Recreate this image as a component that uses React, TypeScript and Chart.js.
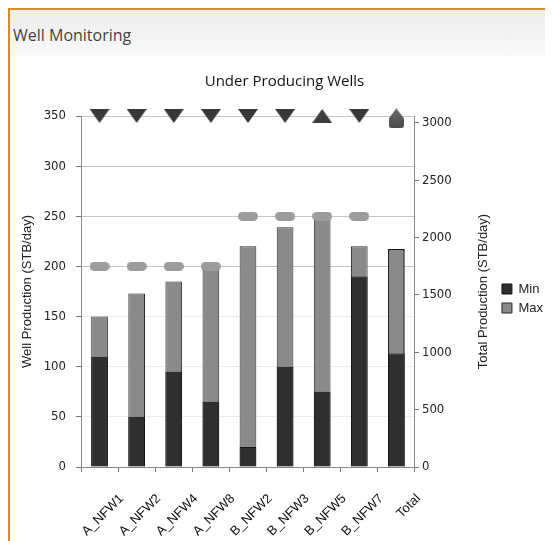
import { useEffect, useRef } from 'react';
import { Chart, registerables } from 'chart.js';

Chart.register(...registerables);

// ---- data ----
const categories = ['A_NFW1', 'A_NFW2', 'A_NFW4', 'A_NFW8', 'B_NFW2', 'B_NFW3', 'B_NFW5', 'B_NFW7', 'Total'];
const minValues = [110, 50, 95, 65, 20, 100, 75, 190, null];
const maxValues = [150, 173, 185, 198, 220, 239, 253, 220, null];
const totalMinValues = [null, null, null, null, null, null, null, null, 990];
const totalMaxValues = [null, null, null, null, null, null, null, null, 1900];
const statusValues = [350, 350, 350, 350, 350, 350, 350, 350, null];
const statusTrend = ['down', 'down', 'down', 'down', 'down', 'down', 'up', 'down', null];
const totalStatusValues = [null, null, null, null, null, null, null, null, 3040];
const targetValues = [200, 200, 200, 200, 250, 250, 250, 250, null];
const leftTickValues = [0, 50, 100, 150, 200, 250, 300, 350];
const rightTickValues = [0, 500, 1000, 1500, 2000, 2500, 3000];
const leftRange = { min: 0, max: 350 };
const rightRange = { min: 0, max: 3060 };

const TITLE = 'Under Producing Wells';
const HEADER = 'Well Monitoring';
const LEFT_TITLE = 'Well Production (STB/day)';
const RIGHT_TITLE = 'Total Production (STB/day)';

function makeMarker(w: number, h: number, draw: (g: CanvasRenderingContext2D) => void) {
  const c = document.createElement('canvas');
  c.width = w;
  c.height = h;
  const g = c.getContext('2d')!;
  draw(g);
  return c;
}

const rightTitlePlugin = {
  id: 'rightTitle',
  afterDraw(chart: any) {
    const { ctx, chartArea } = chart;
    ctx.save();
    ctx.translate(473, (chartArea.top + chartArea.bottom) / 2);
    ctx.rotate(-Math.PI / 2);
    ctx.font = '13px "Liberation Sans", Arial, sans-serif';
    ctx.fillStyle = '#222';
    ctx.textAlign = 'center';
    ctx.textBaseline = 'middle';
    ctx.fillText(RIGHT_TITLE, 0, 0);
    ctx.restore();
  },
};

export default function App() {
  const ref = useRef<HTMLCanvasElement>(null);

  useEffect(() => {
    const down = makeMarker(20, 14, (g) => {
      g.fillStyle = '#383838';
      g.beginPath();
      g.moveTo(0, 0);
      g.lineTo(20, 0);
      g.lineTo(10, 14);
      g.closePath();
      g.fill();
    });
    const up = makeMarker(20, 14, (g) => {
      g.fillStyle = '#3d3d3d';
      g.beginPath();
      g.moveTo(0, 14);
      g.lineTo(20, 14);
      g.lineTo(10, 0);
      g.closePath();
      g.fill();
    });
    const pill = makeMarker(20, 9, (g) => {
      g.fillStyle = '#9c9c9c';
      g.beginPath();
      (g as any).roundRect(0, 0, 20, 9, 4.5);
      g.fill();
    });
    const house = makeMarker(15, 20, (g) => {
      const grad = g.createLinearGradient(0, 0, 0, 20);
      grad.addColorStop(0, '#6a6a6a');
      grad.addColorStop(1, '#4a4a4a');
      g.fillStyle = grad;
      g.beginPath();
      g.moveTo(7.5, 0);
      g.lineTo(15, 10);
      g.lineTo(15, 17);
      g.quadraticCurveTo(15, 20, 12, 20);
      g.lineTo(3, 20);
      g.quadraticCurveTo(0, 20, 0, 17);
      g.lineTo(0, 10);
      g.closePath();
      g.fill();
    });

    const tickFont = { family: '"DejaVu Sans Condensed", "DejaVu Sans", sans-serif', size: 13 };

    const chart = new Chart(ref.current!, {
      type: 'bar',
      data: {
        labels: categories,
        datasets: [
          {
            label: 'Min',
            data: minValues,
            backgroundColor: '#2f2f2f',
            borderColor: '#151515',
            borderWidth: 1,
            yAxisID: 'y',
            stack: 's',
            order: 2,
          },
          {
            label: 'Max',
            data: maxValues,
            backgroundColor: '#8a8a8a',
            borderColor: '#2a2a2a',
            borderWidth: 1,
            yAxisID: 'y',
            stack: 's',
            order: 3,
          },
          {
            label: 'Total Min',
            data: totalMinValues,
            backgroundColor: '#2f2f2f',
            borderColor: '#151515',
            borderWidth: 1,
            yAxisID: 'y1',
            stack: 's',
            order: 2,
          },
          {
            label: 'Total Max',
            data: totalMaxValues,
            backgroundColor: '#8a8a8a',
            borderColor: '#151515',
            borderWidth: 1.5,
            yAxisID: 'y1',
            stack: 's',
            order: 3,
          },
          {
            type: 'line',
            label: 'Target',
            data: targetValues,
            showLine: false,
            pointStyle: pill as any,
            pointRadius: 5,
            yAxisID: 'y',
            clip: false as any,
            order: 1,
          } as any,
          {
            type: 'line',
            label: 'Status',
            data: statusValues,
            showLine: false,
            pointStyle: statusTrend.map((t) => (t === 'up' ? up : down)) as any,
            pointRadius: 5,
            yAxisID: 'y',
            clip: false as any,
            order: 0,
          } as any,
          {
            type: 'line',
            label: 'Total Status',
            data: totalStatusValues,
            showLine: false,
            pointStyle: house as any,
            pointRadius: 5,
            yAxisID: 'y1',
            clip: false as any,
            order: 0,
          } as any,
        ],
      },
      options: {
        animation: false,
        responsive: false,
        devicePixelRatio: 1,
        layout: { padding: { left: 6, right: 0, top: 0, bottom: 0 } },
        datasets: { bar: { barPercentage: 0.45, categoryPercentage: 1 } },
        plugins: {
          tooltip: { enabled: false },
          title: {
            display: true,
            text: TITLE,
            color: '#111',
            font: { family: '"Open Sans", sans-serif', size: 15, weight: 'normal' },
            padding: { top: 17, bottom: 25 },
          },
          legend: {
            position: 'right',
            labels: {
              boxWidth: 10,
              boxHeight: 10,
              padding: 6,
              color: '#222',
              font: { family: '"Liberation Sans", Arial, sans-serif', size: 13 },
              filter: (item: any) => item.datasetIndex === 0 || item.datasetIndex === 1,
            },
          },
        },
        scales: {
          x: {
            stacked: true,
            offset: true,
            grid: { display: true, drawOnChartArea: false, drawTicks: true, tickLength: 5, tickColor: '#777', offset: true },
            border: { color: '#888', width: 1 },
            ticks: {
              autoSkip: false,
              maxRotation: 45,
              minRotation: 45,
              labelOffset: 22,
              padding: 19,
              color: '#111',
              font: { family: '"Liberation Sans", Arial, sans-serif', size: 13 },
            },
            afterFit: (s: any) => {
              s.height = 74;
            },
          },
          y: {
            position: 'left',
            stacked: false,
            min: leftRange.min,
            max: leftRange.max,
            afterBuildTicks: (s: any) => {
              s.ticks = leftTickValues.map((v) => ({ value: v }));
            },
            ticks: { padding: 10, color: '#222', font: tickFont, callback: (v: any) => String(v) },
            grid: {
              color: (c: any) => (c.tick && c.tick.value >= 200 ? '#c4c4c4' : '#ededed'),
              tickColor: '#777',
              tickLength: 5,
            },
            border: { color: '#888', width: 1 },
            title: {
              display: true,
              text: LEFT_TITLE,
              color: '#222',
              font: { family: '"Liberation Sans", Arial, sans-serif', size: 13 },
            },
            afterFit: (s: any) => {
              s.width = 65;
            },
          },
          y1: {
            position: 'right',
            stacked: false,
            min: rightRange.min,
            max: rightRange.max,
            afterBuildTicks: (s: any) => {
              s.ticks = rightTickValues.map((v) => ({ value: v }));
            },
            ticks: { padding: 3, color: '#222', font: tickFont, autoSkip: false, callback: (v: any) => String(v) },
            grid: { drawOnChartArea: false, tickColor: '#777', tickLength: 4 },
            border: { color: '#888', width: 1 },
            afterFit: (s: any) => {
              s.width = 81;
            },
          },
        },
      } as any,
      plugins: [rightTitlePlugin],
    });
    return () => chart.destroy();
  }, []);

  return (
    <div
      style={{
        position: 'relative',
        width: 545,
        height: 533,
        boxSizing: 'border-box',
        borderLeft: '2px solid #d4901c',
        borderTop: '2px solid #d4901c',
        background: '#fff',
        overflow: 'hidden',
      }}
    >
      <div
        style={{
          height: 46,
          background: 'linear-gradient(to bottom, #ececec, #f9f9f9)',
          fontFamily: '"Open Sans", sans-serif',
          fontSize: 16,
          color: '#444',
          lineHeight: '50px',
          paddingLeft: 3,
        }}
      >
        {HEADER}
      </div>
      <canvas ref={ref} width={543} height={485} style={{ display: 'block' }} />
    </div>
  );
}
